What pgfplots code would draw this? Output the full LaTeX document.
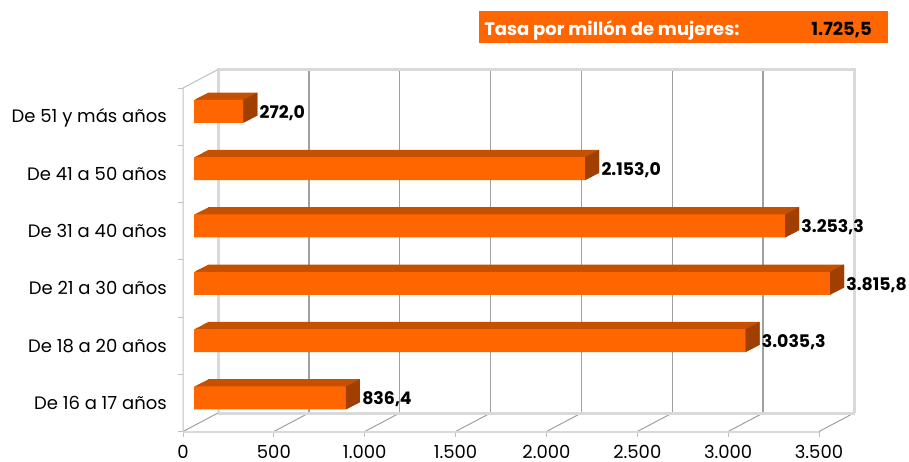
\documentclass[border=0pt]{standalone}
\usepackage{fontspec}
\setmainfont{Poppins}
\usepackage{pgfplots}
\usepackage{pgfplotstable}
\pgfplotsset{compat=1.18}
\definecolor{barfront}{HTML}{FF6600}
\definecolor{bartop}{HTML}{C55000}
\definecolor{barside}{HTML}{A03F00}
\definecolor{wallc}{HTML}{D9D9D9}
\definecolor{gridc}{HTML}{A0A0A0}
\definecolor{edgec}{HTML}{BFBFBF}

\pgfplotstableread{
y v lab
0 836.4 836,4
1 3035.3 3.035,3
2 3815.8 3.815,8
3 3253.3 3.253,3
4 2153.0 2.153,0
5 272.0 272,0
}\agedata

\pgfdeclareplotmark{sideface}{%
  \pgfpathmoveto{\pgfqpoint{0pt}{-8.625pt}}%
  \pgfpathlineto{\pgfqpoint{0pt}{8.625pt}}%
  \pgfpathlineto{\pgfqpoint{10.5pt}{14.025pt}}%
  \pgfpathlineto{\pgfqpoint{10.5pt}{-3.225pt}}%
  \pgfpathclose
  \pgfsetfillcolor{barside}\pgfusepathqfill}

\newcommand{\lblfont}{\fontsize{13.5}{16}\selectfont}
\newcommand{\valfont}{\fontsize{13}{16}\selectfont\bfseries}

\begin{document}
\begin{tikzpicture}
\begin{scope}[x=0.75pt,y=-0.75pt]
\path[use as bounding box] (0,0) rectangle (909,461);
% title box
\fill[barfront] (479,11) rectangle (888,43);
\node[anchor=base west, inner sep=0pt, text=white, font=\lblfont\bfseries] at (484,35) {Tasa por millón de mujeres:};
\node[anchor=base east, inner sep=0pt, text=black, font=\lblfont\bfseries] at (872,35) {1.725,5};
% back wall gridlines
\foreach \k in {1,...,6} \draw[gridc, line width=1.1pt] ({218+90.857*\k},70) -- ({218+90.857*\k},413);
% floor diagonals
\foreach \k in {0,...,7} \draw[gridc, line width=0.75pt] ({183+90.857*\k},431.5) -- ({218+90.857*\k},413);
% bottom ticks
\foreach \k in {0,...,7} \draw[edgec, line width=0.75pt] ({183+90.857*\k},431.5) -- ({183+90.857*\k},437);
% floor front edge
\draw[wallc, line width=1.5pt] (183,431.5) -- (819,431.5);
% floor back edge and back wall edges
\draw[wallc, line width=2.25pt] (218,413) -- (854.5,413);
\draw[wallc, line width=2.25pt] (218,413) -- (218,69.5) -- (854.5,69.5) -- (854.5,413);
% left wall
\draw[edgec, line width=0.75pt] (183,431.5) -- (183,88) -- (218,69.5);
\foreach \j in {0,...,6} \draw[edgec, line width=0.75pt] (178,{88+57.33*\j}) -- (183,{88+57.33*\j});
\end{scope}
\begin{axis}[
  at={(145.5pt,-319.95pt)}, anchor=south west,
  scale only axis, width=477pt, height=258pt,
  xmin=0, xmax=3500, ymin=-0.5, ymax=5.5,
  axis line style={draw=none}, tick style={draw=none},
  clip=false,
  xtick={0,500,...,3500},
  xticklabel style={anchor=base, inner sep=0pt, xshift=-8.25pt, yshift=-24.0pt, font=\lblfont},
  /pgf/number format/.cd, 1000 sep={.}, use comma, assume math mode=true, /pgfplots/.cd,
  ytick={0,...,5},
  yticklabels={De 16 a 17 años, De 18 a 20 años, De 21 a 30 años, De 31 a 40 años, De 41 a 50 años, De 51 y más años},
  yticklabel style={anchor=base east, inner sep=0pt, xshift=-20.25pt, yshift=-8.55pt, font=\lblfont},
  x filter/.expression={min(x,3500)},
]
\pgfplotsinvokeforeach{1,...,14}{
  \addplot[xbar, bar width=17.25pt, bar shift=0pt, fill=bartop, draw=none, xshift=#1*0.75pt, yshift=#1*0.3857pt, forget plot] table[x=v,y=y]{\agedata};
}
\addplot[only marks, mark=sideface, forget plot] table[x=v,y=y]{\agedata};
\addplot[xbar, bar width=17.25pt, bar shift=0pt, fill=barfront, draw=none,
  nodes near coords, point meta=explicit symbolic,
  nodes near coords style={anchor=base west, inner sep=0pt, xshift=12pt, yshift=-5.25pt, font=\valfont, text=black}]
  table[x=v,y=y,meta=lab]{\agedata};
\end{axis}
\end{tikzpicture}
\end{document}
